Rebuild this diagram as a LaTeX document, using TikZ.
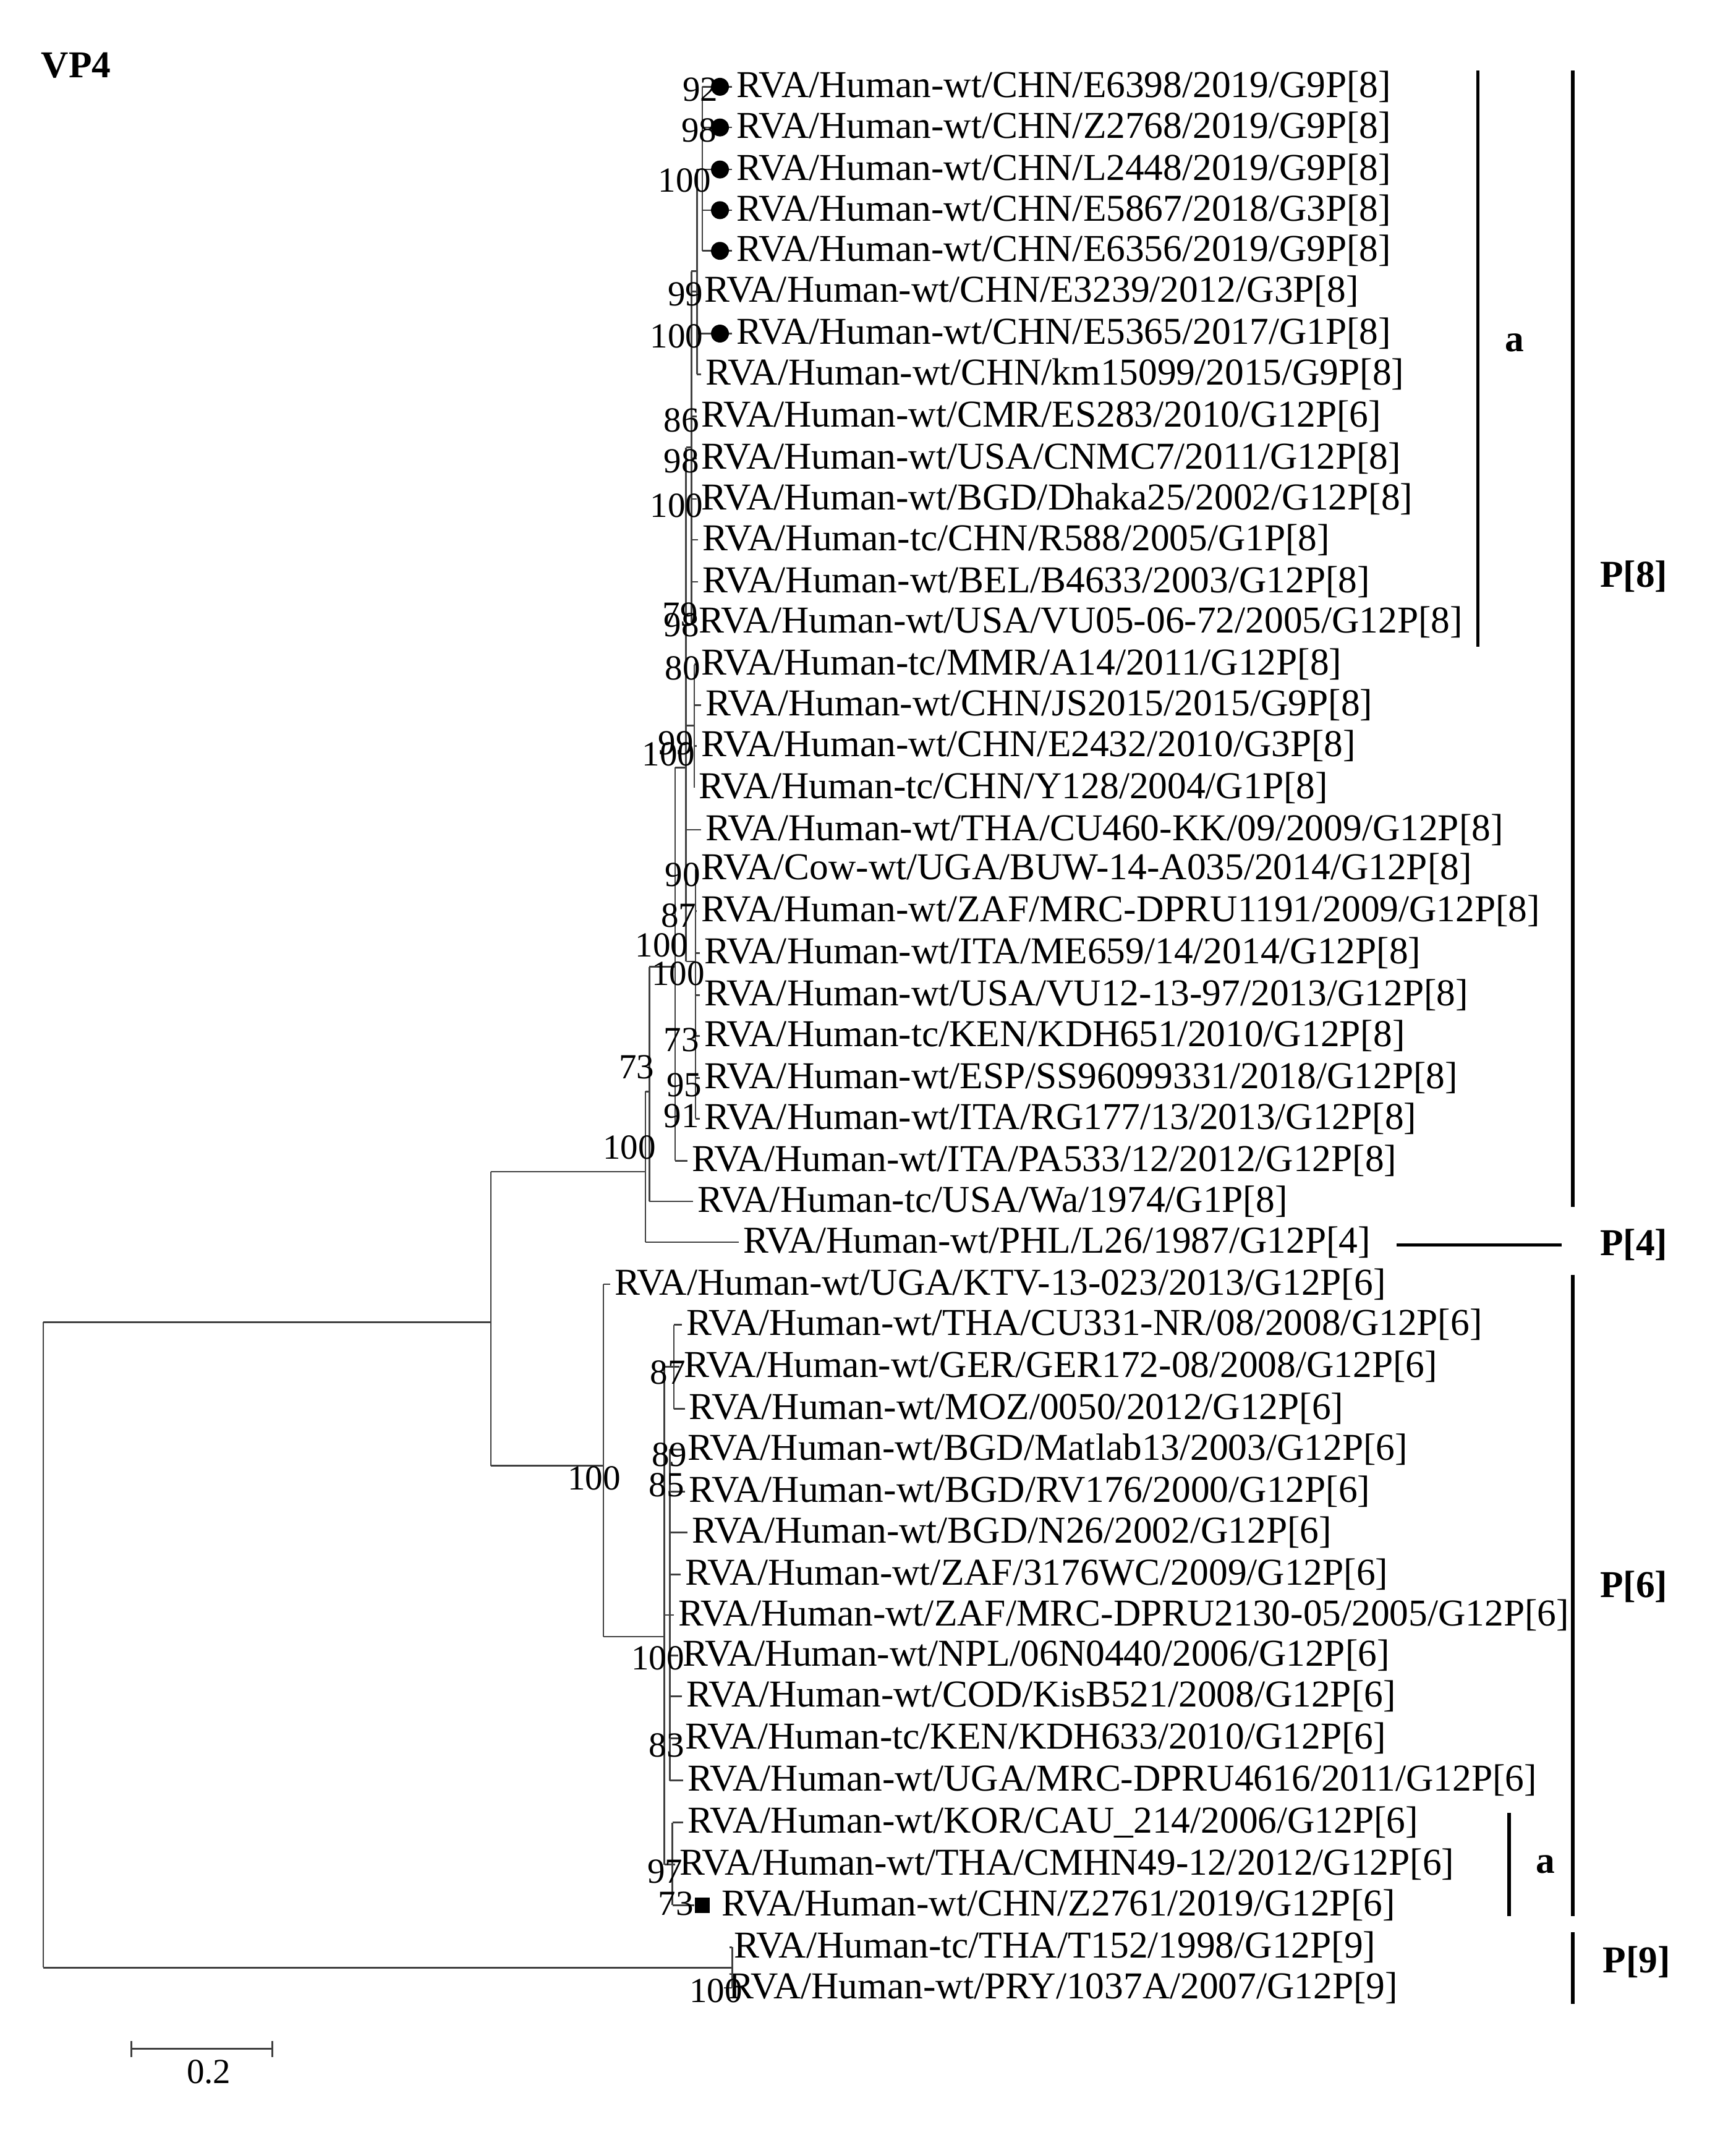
\documentclass[tikz,border=0pt]{standalone}
\usepackage{fontspec}
\setmainfont{Liberation Serif}
\begin{document}
\begin{tikzpicture}[x=0.5pt,y=-0.5pt,
  br/.style={draw=black!75,line width=0.6pt},
  lf/.style={anchor=west,inner sep=0pt,font=\fontsize{14}{15}\selectfont},
  bs/.style={anchor=east,inner sep=0pt,font=\fontsize{13}{14}\selectfont},
  grp/.style={font=\bfseries\fontsize{14}{15}\selectfont,inner sep=0pt},
  bar/.style={draw=black,line width=1.2pt}]
\useasboundingbox (0,0) rectangle (1280,1574.5);
\node[grp,anchor=west] (vp4) at (30,48) {VP4};
\foreach \i/\y/\px/\tx/\t in {
1/64/518/543/{RVA/Human-wt/CHN/E6398/2019/G9P[8]},
2/94/518/543/{RVA/Human-wt/CHN/Z2768/2019/G9P[8]},
3/125/518/543/{RVA/Human-wt/CHN/L2448/2019/G9P[8]},
4/155/518/543/{RVA/Human-wt/CHN/E5867/2018/G3P[8]},
5/185/518/543/{RVA/Human-wt/CHN/E6356/2019/G9P[8]},
6/215/510/519/{RVA/Human-wt/CHN/E3239/2012/G3P[8]},
7/246/514/543/{RVA/Human-wt/CHN/E5365/2017/G1P[8]},
8/276/514/520/{RVA/Human-wt/CHN/km15099/2015/G9P[8]},
9/307/510/517/{RVA/Human-wt/CMR/ES283/2010/G12P[6]},
10/338/510/517/{RVA/Human-wt/USA/CNMC7/2011/G12P[8]},
11/368/510/517/{RVA/Human-wt/BGD/Dhaka25/2002/G12P[8]},
12/398/510/518/{RVA/Human-tc/CHN/R588/2005/G1P[8]},
13/429/510/518/{RVA/Human-wt/BEL/B4633/2003/G12P[8]},
14/459/510/515/{RVA/Human-wt/USA/VU05-06-72/2005/G12P[8]},
15/490/512/517/{RVA/Human-tc/MMR/A14/2011/G12P[8]},
16/520/512/520/{RVA/Human-wt/CHN/JS2015/2015/G9P[8]},
17/550/512/517/{RVA/Human-wt/CHN/E2432/2010/G3P[8]},
18/581/512/515/{RVA/Human-tc/CHN/Y128/2004/G1P[8]},
19/612/506/520/{RVA/Human-wt/THA/CU460-KK/09/2009/G12P[8]},
20/641/513/517/{RVA/Cow-wt/UGA/BUW-14-A035/2014/G12P[8]},
21/672/513/517/{RVA/Human-wt/ZAF/MRC-DPRU1191/2009/G12P[8]},
22/703/513/519/{RVA/Human-wt/ITA/ME659/14/2014/G12P[8]},
23/734/513/519/{RVA/Human-wt/USA/VU12-13-97/2013/G12P[8]},
24/764/513/519/{RVA/Human-tc/KEN/KDH651/2010/G12P[8]},
25/795/513/519/{RVA/Human-wt/ESP/SS96099331/2018/G12P[8]},
26/825/513/519/{RVA/Human-wt/ITA/RG177/13/2013/G12P[8]},
27/856/498/510/{RVA/Human-wt/ITA/PA533/12/2012/G12P[8]},
28/886/479/514/{RVA/Human-tc/USA/Wa/1974/G1P[8]},
29/916/476/548/{RVA/Human-wt/PHL/L26/1987/G12P[4]},
30/947/445/453/{RVA/Human-wt/UGA/KTV-13-023/2013/G12P[6]},
31/977/497/506/{RVA/Human-wt/THA/CU331-NR/08/2008/G12P[6]},
32/1008/497/504/{RVA/Human-wt/GER/GER172-08/2008/G12P[6]},
33/1039/497/508/{RVA/Human-wt/MOZ/0050/2012/G12P[6]},
34/1069/494/507/{RVA/Human-wt/BGD/Matlab13/2003/G12P[6]},
35/1100/494/508/{RVA/Human-wt/BGD/RV176/2000/G12P[6]},
36/1130/494/510/{RVA/Human-wt/BGD/N26/2002/G12P[6]},
37/1161/494/505/{RVA/Human-wt/ZAF/3176WC/2009/G12P[6]},
38/1191/494/500/{RVA/Human-wt/ZAF/MRC-DPRU2130-05/2005/G12P[6]},
39/1221/494/503/{RVA/Human-wt/NPL/06N0440/2006/G12P[6]},
40/1251/494/506/{RVA/Human-wt/COD/KisB521/2008/G12P[6]},
41/1282/494/505/{RVA/Human-tc/KEN/KDH633/2010/G12P[6]},
42/1313/494/507/{RVA/Human-wt/UGA/MRC-DPRU4616/2011/G12P[6]},
43/1344/496/507/{RVA/Human-wt/KOR/CAU\_214/2006/G12P[6]},
44/1375/496/501/{RVA/Human-wt/THA/CMHN49-12/2012/G12P[6]},
45/1405/496/532/{RVA/Human-wt/CHN/Z2761/2019/G12P[6]},
46/1436/540/541/{RVA/Human-tc/THA/T152/1998/G12P[9]},
47/1466/540/537/{RVA/Human-wt/PRY/1037A/2007/G12P[9]}}{
  \node[lf] (n\i) at (\tx,\y) {\t};
  \coordinate (p\i) at (\px,\y);
  \coordinate (t\i) at (\tx-3,\y);
}
\foreach \i in {1,2,3,4,5,6,7,8,9,10,11,12,13,14,15,16,17,18,19,20,21,22,23,24,25,26,27,28,29,30,31,32,33,34,35,36,37,38,39,40,41,42,43,44,46,47}{
  \draw[br] (p\i) -- (t\i);
}
\draw[br] (p45) -- (512,1405);
\foreach \i in {1,2,3,4,5,7}{\fill ([xshift=-6pt]n\i.west) circle (3.3pt);}
\fill ([xshift=-7pt]n45.west) ++(-2.8pt,-2.8pt) rectangle ++(5.6pt,5.6pt);
% internal structure
\draw[br] (518,64) -- (518,185);
\draw[br] (514,125) -- (518,125);
\draw[br] (514,125) -- (514,276);
\draw[br] (510,200) -- (514,200);
\draw[br] (510,200) -- (510,459);
\draw[br] (506,330) -- (510,330);
\draw[br] (506,330) -- (506,709);
\draw[br] (512,490) -- (512,581);
\draw[br] (506,535) -- (512,535);
\draw[br] (513,641) -- (513,825);
\draw[br] (506,709) -- (513,709);
\draw[br] (498,566) -- (506,566);
\draw[br] (498,566) -- (498,856);
\draw[br] (479,713) -- (498,713);
\draw[br] (479,713) -- (479,886);
\draw[br] (476,805) -- (479,805);
\draw[br] (476,805) -- (476,916);
\draw[br] (362,864) -- (476,864);
\draw[br] (362,864) -- (362,1081);
\draw[br] (362,1081) -- (445,1081);
\draw[br] (445,947) -- (445,1207);
\draw[br] (445,1207) -- (490,1207);
\draw[br] (490,1008) -- (490,1375);
\draw[br] (490,1008) -- (497,1008);
\draw[br] (497,977) -- (497,1039);
\draw[br] (490,1191) -- (494,1191);
\draw[br] (494,1069) -- (494,1313);
\draw[br] (490,1375) -- (496,1375);
\draw[br] (496,1344) -- (496,1405);
\draw[br] (32,975) -- (362,975);
\draw[br] (32,975) -- (32,1451);
\draw[br] (32,1451) -- (540,1451);
\draw[br] (540,1436) -- (540,1466);
% bootstrap values
\foreach \v/\x/\y in {92/530/66,98/529/96,100/525/133,99/519/217,100/519/248,86/516/310,98/516/340,100/519/373,79/515/453,98/516/461,80/517/493,99/512/548,100/513/556,90/517/645,87/514/675,100/508/697,100/520/718,73/516/767,95/518/800,91/516/823,73/483/787,100/484/846,100/458/1090,87/506/1012,89/507/1073,85/505/1095,100/505/1223,83/505/1287,97/504/1380,73/512/1404,100/548/1468}{
  \node[bs] at (\x,\y) {\v};
}
% group bars
\draw[bar] (1090,52) -- (1090,477);
\node[grp] (ga) at (1117,253) {a};
\draw[bar] (1160,52) -- (1160,890);
\node[grp] (gp8) at (1205,425) {P[8]};
\draw[bar] (1030,918) -- (1152,918);
\node[grp] (gp4) at (1205,918) {P[4]};
\draw[bar] (1160,940) -- (1160,1413);
\node[grp] (gp6) at (1205,1170) {P[6]};
\draw[bar] (1113,1337) -- (1113,1413);
\node[grp] (ga2) at (1140,1375) {a};
\draw[bar] (1160,1425) -- (1160,1478);
\node[grp] (gp9) at (1207,1447) {P[9]};
% scale bar
\draw[br] (97,1505) -- (97,1517) (201,1505) -- (201,1517) (97,1511) -- (201,1511);
\node[bs,anchor=center] (sc) at (154,1528) {0.2};
\end{tikzpicture}
\end{document}
